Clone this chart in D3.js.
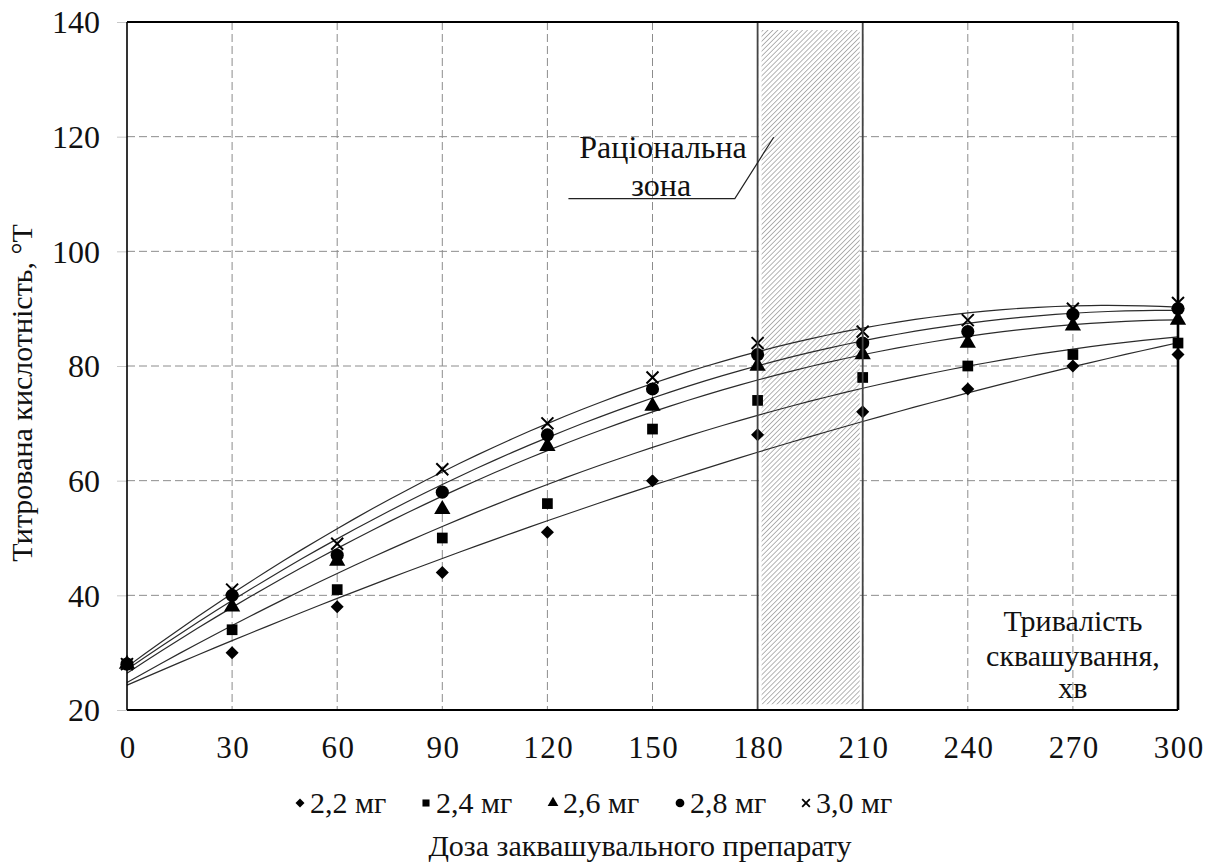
<!DOCTYPE html>
<html>
<head>
<meta charset="utf-8">
<script src="https://cdn.jsdelivr.net/npm/d3@7"></script>
<style>
  body { margin: 0; background: #fff; }
  svg { display: block; }
  svg text { font-family: "Liberation Serif", "Times New Roman", Times, "DejaVu Serif", serif; }
</style>
</head>
<body>
<svg id="chart"></svg>
<script>
// --- data ---
const minutes = [0, 30, 60, 90, 120, 150, 180, 210, 240, 270, 300];
const doses = ['2,2 мг', '2,4 мг', '2,6 мг', '2,8 мг', '3,0 мг'];
const dose22 = [28, 30, 38, 44, 51, 60, 68, 72, 76, 80, 82];
const dose24 = [28, 34, 41, 50, 56, 69, 74, 78, 80, 82, 84];
const dose26 = [28, 38, 46, 55, 66, 73, 80, 82, 84, 87, 88];
const dose28 = [28, 40, 47, 58, 68, 76, 82, 84, 86, 89, 90];
const dose30 = [28, 41, 49, 62, 70, 78, 84, 86, 88, 90, 91];
const yTicks = [20, 40, 60, 80, 100, 120, 140];
const zone = [180, 210];

const seriesValues = [dose22, dose24, dose26, dose28, dose30];

const serif = '"Liberation Serif", "Times New Roman", Times, "DejaVu Serif", serif';

const width = 1215, height = 866;
const margin = { top: 22, right: 37, bottom: 156, left: 127 };
const innerW = width - margin.left - margin.right;
const innerH = height - margin.top - margin.bottom;

const svg = d3.select('#chart').attr('width', width).attr('height', height)
  .attr('font-family', serif);
const g = svg.append('g').attr('transform', `translate(${margin.left},${margin.top})`);

const x = d3.scaleLinear().domain([0, 300]).range([0, innerW]);
const y = d3.scaleLinear().domain([20, 140]).range([innerH, 0]);

// hatch pattern
const defs = svg.append('defs');
defs.append('pattern')
    .attr('id', 'hatch')
    .attr('patternUnits', 'userSpaceOnUse')
    .attr('width', 3.5).attr('height', 3.5)
    .attr('patternTransform', 'rotate(45)')
  .append('line')
    .attr('x1', 0).attr('y1', 0).attr('x2', 0).attr('y2', 3.5)
    .attr('stroke', '#777').attr('stroke-width', 1.1);

// grid
g.append('g').selectAll('line')
  .data(yTicks.slice(1, -1))
  .join('line')
    .attr('x1', 0).attr('x2', innerW)
    .attr('y1', d => y(d)).attr('y2', d => y(d))
    .attr('stroke', '#8c8c8c').attr('stroke-dasharray', '8,4');

g.append('g').selectAll('line')
  .data(minutes.slice(1, -1))
  .join('line')
    .attr('x1', d => x(d)).attr('x2', d => x(d))
    .attr('y1', 0).attr('y2', innerH)
    .attr('stroke', '#8c8c8c').attr('stroke-dasharray', '8,4');

// rational zone
const zoneBox = {
  x: x(zone[0]) + 4,
  y: y(138.6),
  w: x(zone[1]) - x(zone[0]) - 7,
  h: y(21) - y(138.6)
};
g.append('rect')
  .attr('x', zoneBox.x).attr('y', zoneBox.y)
  .attr('width', zoneBox.w).attr('height', zoneBox.h)
  .attr('fill', '#fff');
g.append('rect')
  .attr('x', zoneBox.x).attr('y', zoneBox.y)
  .attr('width', zoneBox.w).attr('height', zoneBox.h)
  .attr('fill', 'url(#hatch)');

// quadratic least squares trend (like Excel poly 2)
function polyFit(xs, ys) {
  let s = [0, 0, 0, 0, 0], t = [0, 0, 0];
  xs.forEach((xv, i) => {
    for (let k = 0; k < 5; k++) s[k] += Math.pow(xv, k);
    for (let k = 0; k < 3; k++) t[k] += ys[i] * Math.pow(xv, k);
  });
  const A = [[s[0], s[1], s[2], t[0]], [s[1], s[2], s[3], t[1]], [s[2], s[3], s[4], t[2]]];
  for (let i = 0; i < 3; i++) {
    for (let j = i + 1; j < 3; j++) {
      const f = A[j][i] / A[i][i];
      for (let k = i; k < 4; k++) A[j][k] -= f * A[i][k];
    }
  }
  const c = [0, 0, 0];
  for (let i = 2; i >= 0; i--) {
    let v = A[i][3];
    for (let k = i + 1; k < 3; k++) v -= A[i][k] * c[k];
    c[i] = v / A[i][i];
  }
  return xv => c[0] + c[1] * xv + c[2] * xv * xv;
}

const line = d3.line().x(d => x(d[0])).y(d => y(d[1])).curve(d3.curveMonotoneX);
const fineX = d3.range(0, 301, 5);

seriesValues.forEach(vals => {
  const f = polyFit(minutes, vals);
  g.append('path')
    .datum(fineX.map(m => [m, f(m)]))
    .attr('fill', 'none')
    .attr('stroke', '#2b2b2b')
    .attr('stroke-width', 1.2)
    .attr('d', line);
});

// markers (diamond = rotated square, like Excel)
const symbols = [
  d3.symbol().type(d3.symbolSquare).size(85),
  d3.symbol().type(d3.symbolSquare).size(115),
  d3.symbol().type(d3.symbolTriangle).size(115),
  d3.symbol().type(d3.symbolCircle).size(135),
  d3.symbol().type(d3.symbolX).size(95)
];
const rotations = [45, 0, 0, 0, 0];

seriesValues.forEach((vals, si) => {
  g.append('g').selectAll('path')
    .data(vals)
    .join('path')
      .attr('transform', (d, i) => `translate(${x(minutes[i])},${y(d)}) rotate(${rotations[si]})`)
      .attr('d', symbols[si])
      .attr('fill', si === 4 ? 'none' : '#000')
      .attr('stroke', si === 4 ? '#000' : 'none')
      .attr('stroke-width', 2);
});

// zone borders
g.append('g').selectAll('line')
  .data(zone)
  .join('line')
    .attr('x1', d => x(d)).attr('x2', d => x(d))
    .attr('y1', 0).attr('y2', innerH)
    .attr('stroke', '#444').attr('stroke-width', 1.8);

// axes
const yAxis = d3.axisLeft(y).tickValues(yTicks).tickSize(10).tickPadding(17);
const yg = g.append('g').call(yAxis).attr('font-family', serif);
yg.select('.domain').remove();
yg.selectAll('.tick line').attr('stroke', '#c8c8c8');
yg.selectAll('.tick text')
  .attr('font-size', 32).attr('fill', '#111')
  .attr('dy', '0.34em');

const xAxis = d3.axisBottom(x).tickValues(minutes).tickSize(0).tickPadding(26);
const xg = g.append('g').attr('transform', `translate(0,${innerH})`).call(xAxis)
  .attr('font-family', serif);
xg.select('.domain').remove();
xg.selectAll('.tick text')
  .attr('font-size', 31).attr('fill', '#111')
  .attr('letter-spacing', 1.5)
  .attr('dx', 0.75);

// frame
g.append('line').attr('x1', 0).attr('x2', 0).attr('y1', 0).attr('y2', innerH)
  .attr('stroke', '#000').attr('stroke-width', 1.6);
g.append('line').attr('x1', 0).attr('x2', innerW).attr('y1', innerH).attr('y2', innerH)
  .attr('stroke', '#000').attr('stroke-width', 2);
g.append('line').attr('x1', 0).attr('x2', innerW).attr('y1', 0).attr('y2', 0)
  .attr('stroke', '#000').attr('stroke-width', 2.2);
g.append('line').attr('x1', innerW).attr('x2', innerW).attr('y1', 0).attr('y2', innerH)
  .attr('stroke', '#000').attr('stroke-width', 2.6);

// annotation "Раціональна зона"
const leader = [[126, 109.2], [173.5, 109.2], [184.6, 119.9]];
g.append('path')
  .attr('d', d3.line().x(d => x(d[0])).y(d => y(d[1]))(leader))
  .attr('fill', 'none').attr('stroke', '#222').attr('stroke-width', 1.2);

const annot = g.append('text')
  .attr('text-anchor', 'middle')
  .attr('font-size', 32).attr('fill', '#111');
annot.append('tspan').attr('x', x(153)).attr('y', y(116.3)).text('Раціональна');
annot.append('tspan').attr('x', x(152.5)).attr('y', y(109.7)).text('зона');

const dur = g.append('text')
  .attr('text-anchor', 'middle')
  .attr('font-size', 30).attr('fill', '#111');
dur.append('tspan').attr('x', x(270)).attr('y', y(33.8)).text('Тривалість');
dur.append('tspan').attr('x', x(270)).attr('y', y(27.7)).text('сквашування,');
dur.append('tspan').attr('x', x(270)).attr('y', y(22.1)).text('хв');

// y title
svg.append('text')
  .attr('transform', `translate(32,393) rotate(-90)`)
  .attr('text-anchor', 'middle')
  .attr('font-size', 30).attr('fill', '#111')
  .text('Титрована кислотність, °Т');

// legend
const legendX = [300, 426, 553, 680, 806];
const legendSymbols = [
  d3.symbol().type(d3.symbolSquare).size(40),
  d3.symbol().type(d3.symbolSquare).size(50),
  d3.symbol().type(d3.symbolTriangle).size(50),
  d3.symbol().type(d3.symbolCircle).size(60),
  d3.symbol().type(d3.symbolX).size(40)
];
const legend = svg.append('g').attr('transform', 'translate(0,803)');
doses.forEach((name, i) => {
  legend.append('path')
    .attr('transform', `translate(${legendX[i]},0) rotate(${rotations[i]})`)
    .attr('d', legendSymbols[i])
    .attr('fill', i === 4 ? 'none' : '#000')
    .attr('stroke', i === 4 ? '#000' : 'none')
    .attr('stroke-width', 1.8);
  legend.append('text')
    .attr('x', legendX[i] + 10)
    .attr('y', 10)
    .attr('font-size', 30).attr('fill', '#111')
    .text(name);
});

// x title
svg.append('text')
  .attr('x', 640).attr('y', 856)
  .attr('text-anchor', 'middle')
  .attr('font-size', 30).attr('fill', '#111')
  .text('Доза заквашувального препарату');
</script>
</body>
</html>
